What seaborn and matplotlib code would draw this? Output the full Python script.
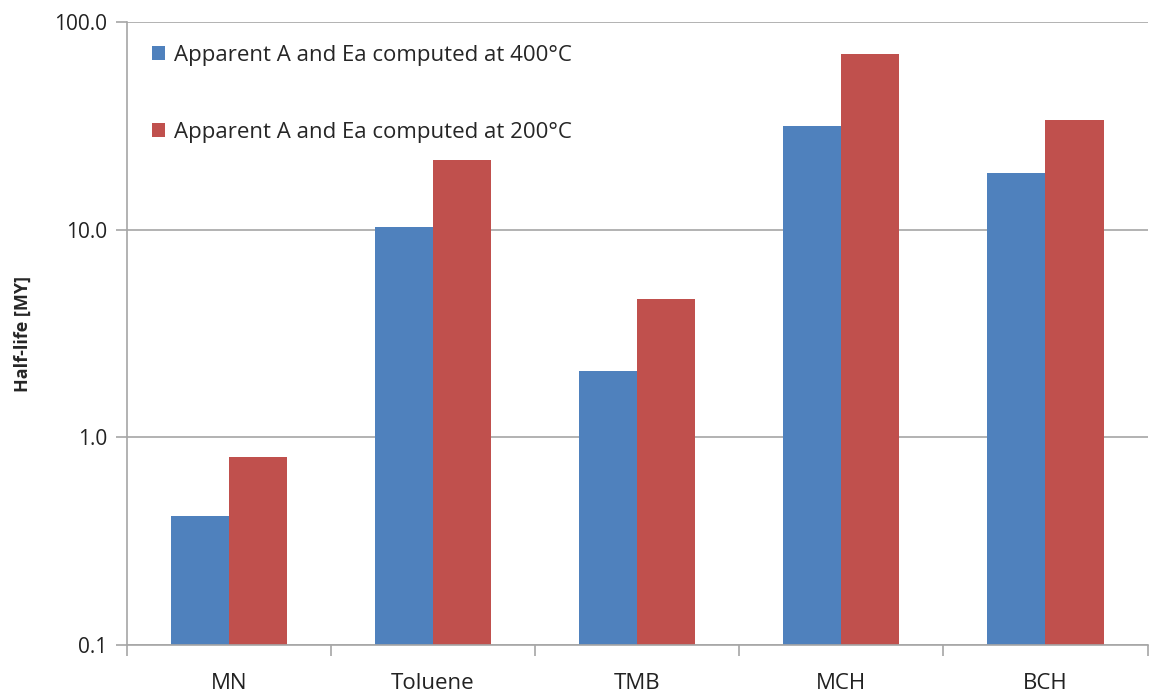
import pandas as pd
import matplotlib.pyplot as plt
import seaborn as sns
from matplotlib.ticker import FixedLocator, NullLocator, FixedFormatter

sns.set_style("white")
plt.rcParams["font.family"] = ["Open Sans", "DejaVu Sans"]

# data
compounds = ["MN", "Toluene", "TMB", "MCH", "BCH"]
at_400 = [0.42, 10.3, 2.09, 31.5, 18.7]
at_200 = [0.80, 21.6, 4.63, 70.0, 33.8]
series = ["Apparent A and Ea computed at 400°C", "Apparent A and Ea computed at 200°C"]
colors = ["#4F81BD", "#C0504D"]

df = pd.DataFrame({
    "Compound": compounds * 2,
    "Half-life": at_400 + at_200,
    "Series": [series[0]] * len(compounds) + [series[1]] * len(compounds),
})

fig, ax = plt.subplots(figsize=(11.51, 6.92), dpi=100)
fig.subplots_adjust(left=0.11, right=0.997, top=0.968, bottom=0.068)

ax.set_yscale("log")
sns.barplot(data=df, x="Compound", y="Half-life", hue="Series",
            palette=colors, width=0.57, saturation=1, linewidth=0, ax=ax)

ax.set_ylim(0.1, 100)
ax.set_xlim(-0.5, len(compounds) - 0.5)
ax.yaxis.set_major_locator(FixedLocator([0.1, 1, 10, 100]))
ax.yaxis.set_major_formatter(FixedFormatter(["0.1", "1.0", "10.0", "100.0"]))
ax.yaxis.set_minor_locator(NullLocator())
ax.grid(axis="y", color="#a6a6a6", linewidth=1.2)
ax.set_axisbelow(True)

for side in ["top", "right"]:
    ax.spines[side].set_visible(False)
for side in ["left", "bottom"]:
    ax.spines[side].set_color("#a6a6a6")
    ax.spines[side].set_linewidth(1.2)

# category boundary ticks on x axis
ax.set_xticks(range(len(compounds)))
ax.set_xticklabels(compounds, fontsize=16, color="#222222")
ax.xaxis.set_minor_locator(FixedLocator([i - 0.5 for i in range(len(compounds) + 1)]))
ax.tick_params(axis="x", which="major", bottom=True, length=0, pad=20)
ax.tick_params(axis="x", which="minor", bottom=True, length=8, color="#a6a6a6", width=1.2)
ax.tick_params(axis="y", which="major", left=True, length=8, color="#a6a6a6", width=1.2,
               labelsize=15, labelcolor="#222222", pad=6)

ax.set_xlabel("")
ax.set_ylabel("Half-life [MY]", fontsize=13, fontweight="bold", labelpad=16)

ax.legend(loc="upper left", bbox_to_anchor=(0.005, 0.995), frameon=False,
          fontsize=16, labelspacing=2.5, handlelength=0.6, handleheight=0.6,
          handletextpad=0.4)

plt.savefig("out.png", dpi=100)
